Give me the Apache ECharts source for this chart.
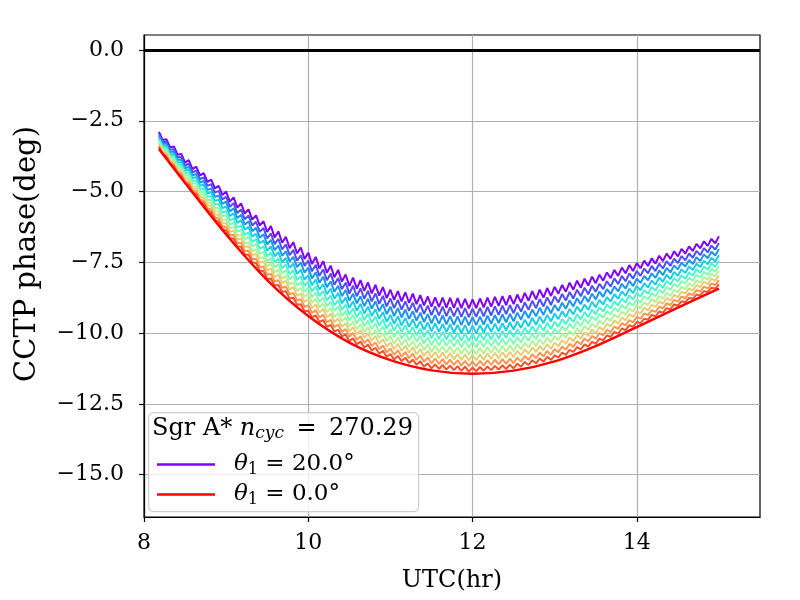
<!DOCTYPE html>
<html style="height: 100%">
<head>
    <meta charset="utf-8">
</head>
<body style="height: 100%; margin: 0">
<div id="container" style="width: 800px; height: 600px"></div>
<script src="https://cdn.jsdelivr.net/npm/echarts@6/dist/echarts.min.js"></script>
<script type="text/javascript">
    // sample times (hr) of the wiggling curves, read along the x axis
    var utc = [
        8.182, 8.227, 8.273, 8.318, 8.364, 8.409, 8.455,
        8.5, 8.545, 8.591, 8.636, 8.682, 8.727, 8.773, 8.818, 8.864, 8.909, 8.955,
        9.0, 9.045, 9.091, 9.136, 9.182, 9.227, 9.273, 9.318, 9.364, 9.409, 9.455,
        9.5, 9.545, 9.591, 9.636, 9.682, 9.727, 9.773, 9.818, 9.864, 9.909, 9.955,
        10.0, 10.045, 10.091, 10.136, 10.182, 10.227, 10.273, 10.318, 10.364, 10.409, 10.455,
        10.5, 10.545, 10.591, 10.636, 10.682, 10.727, 10.773, 10.818, 10.864, 10.909, 10.955,
        11.0, 11.045, 11.091, 11.136, 11.182, 11.227, 11.273, 11.318, 11.364, 11.409, 11.455,
        11.5, 11.545, 11.591, 11.636, 11.682, 11.727, 11.773, 11.818, 11.864, 11.909, 11.955,
        12.0, 12.045, 12.091, 12.136, 12.182, 12.227, 12.273, 12.318, 12.364, 12.409, 12.455,
        12.5, 12.545, 12.591, 12.636, 12.682, 12.727, 12.773, 12.818, 12.864, 12.909, 12.955,
        13.0, 13.045, 13.091, 13.136, 13.182, 13.227, 13.273, 13.318, 13.364, 13.409, 13.455,
        13.5, 13.545, 13.591, 13.636, 13.682, 13.727, 13.773, 13.818, 13.864, 13.909, 13.955,
        14.0, 14.045, 14.091, 14.136, 14.182, 14.227, 14.273, 14.318, 14.364, 14.409, 14.455,
        14.5, 14.545, 14.591, 14.636, 14.682, 14.727, 14.773, 14.818, 14.864, 14.909, 14.955,
        15.0
    ];

    // CCTP phase (deg), one array per theta_1, peaks and troughs of each wiggle
    var theta20 = [
        -2.89, -3.18, -3.15, -3.44, -3.41, -3.70, -3.67,
        -3.98, -3.89, -4.21, -4.12, -4.43, -4.35, -4.66, -4.58, -4.89, -4.80, -5.12,
        -5.00, -5.36, -5.21, -5.57, -5.42, -5.78, -5.63, -5.99, -5.84, -6.20, -6.05,
        -6.43, -6.22, -6.62, -6.41, -6.81, -6.60, -7.00, -6.79, -7.19, -6.98, -7.38,
        -7.16, -7.56, -7.31, -7.72, -7.46, -7.87, -7.62, -8.03, -7.77, -8.18, -7.93,
        -8.34, -8.04, -8.43, -8.13, -8.51, -8.21, -8.60, -8.30, -8.68, -8.38, -8.77,
        -8.47, -8.83, -8.52, -8.88, -8.56, -8.93, -8.61, -8.98, -8.66, -9.02, -8.71,
        -9.07, -8.74, -9.08, -8.75, -9.10, -8.76, -9.11, -8.77, -9.12, -8.79, -9.13,
        -8.81, -9.12, -8.78, -9.09, -8.75, -9.07, -8.72, -9.04, -8.70, -9.01, -8.67,
        -8.98, -8.64, -8.92, -8.58, -8.86, -8.52, -8.81, -8.47, -8.75, -8.41, -8.69,
        -8.37, -8.61, -8.30, -8.54, -8.22, -8.47, -8.15, -8.40, -8.08, -8.32, -8.01,
        -8.24, -7.94, -8.15, -7.86, -8.06, -7.77, -7.98, -7.69, -7.89, -7.60, -7.81,
        -7.53, -7.71, -7.44, -7.63, -7.36, -7.55, -7.27, -7.46, -7.19, -7.38, -7.11,
        -7.29, -7.03, -7.19, -6.94, -7.10, -6.85, -7.01, -6.76, -6.92, -6.67, -6.83,
        -6.58
    ];
    var theta18 = [
        -2.97, -3.25, -3.24, -3.52, -3.51, -3.79, -3.78,
        -4.08, -4.02, -4.32, -4.26, -4.56, -4.50, -4.80, -4.74, -5.04, -4.98, -5.28,
        -5.19, -5.54, -5.41, -5.76, -5.63, -5.98, -5.85, -6.20, -6.07, -6.42, -6.29,
        -6.66, -6.48, -6.86, -6.67, -7.05, -6.87, -7.25, -7.06, -7.44, -7.25, -7.63,
        -7.44, -7.82, -7.59, -7.98, -7.75, -8.14, -7.90, -8.29, -8.06, -8.45, -8.22,
        -8.61, -8.33, -8.70, -8.42, -8.79, -8.51, -8.88, -8.60, -8.97, -8.69, -9.06,
        -8.78, -9.12, -8.83, -9.17, -8.88, -9.22, -8.93, -9.27, -8.98, -9.32, -9.03,
        -9.37, -9.06, -9.38, -9.07, -9.40, -9.09, -9.41, -9.10, -9.43, -9.12, -9.44,
        -9.14, -9.43, -9.11, -9.41, -9.08, -9.38, -9.06, -9.36, -9.03, -9.33, -9.01,
        -9.30, -8.98, -9.24, -8.92, -9.18, -8.86, -9.12, -8.80, -9.06, -8.74, -9.01,
        -8.70, -8.92, -8.62, -8.85, -8.55, -8.78, -8.47, -8.70, -8.40, -8.63, -8.33,
        -8.54, -8.26, -8.45, -8.17, -8.36, -8.07, -8.27, -7.98, -8.17, -7.89, -8.08,
        -7.81, -7.98, -7.72, -7.89, -7.63, -7.81, -7.55, -7.72, -7.46, -7.63, -7.37,
        -7.53, -7.28, -7.43, -7.19, -7.34, -7.10, -7.25, -7.00, -7.15, -6.91, -7.05,
        -6.82
    ];
    var theta16 = [
        -3.03, -3.31, -3.31, -3.60, -3.59, -3.88, -3.88,
        -4.18, -4.13, -4.43, -4.38, -4.68, -4.63, -4.94, -4.89, -5.19, -5.14, -5.44,
        -5.36, -5.71, -5.59, -5.94, -5.82, -6.17, -6.05, -6.40, -6.28, -6.63, -6.51,
        -6.87, -6.71, -7.07, -6.91, -7.27, -7.11, -7.47, -7.31, -7.67, -7.51, -7.87,
        -7.69, -8.07, -7.85, -8.22, -8.01, -8.38, -8.17, -8.54, -8.33, -8.70, -8.48,
        -8.86, -8.61, -8.95, -8.70, -9.05, -8.79, -9.14, -8.88, -9.23, -8.98, -9.33,
        -9.07, -9.40, -9.12, -9.45, -9.17, -9.50, -9.23, -9.56, -9.28, -9.61, -9.33,
        -9.66, -9.37, -9.68, -9.38, -9.69, -9.40, -9.71, -9.41, -9.72, -9.42, -9.73,
        -9.44, -9.72, -9.42, -9.70, -9.39, -9.67, -9.37, -9.65, -9.34, -9.62, -9.32,
        -9.59, -9.28, -9.53, -9.22, -9.47, -9.17, -9.41, -9.11, -9.36, -9.05, -9.30,
        -9.01, -9.22, -8.93, -9.14, -8.85, -9.06, -8.77, -8.98, -8.69, -8.90, -8.61,
        -8.81, -8.54, -8.72, -8.45, -8.62, -8.35, -8.53, -8.26, -8.43, -8.16, -8.34,
        -8.08, -8.23, -7.98, -8.14, -7.89, -8.05, -7.79, -7.95, -7.70, -7.86, -7.61,
        -7.75, -7.52, -7.65, -7.42, -7.56, -7.32, -7.46, -7.22, -7.36, -7.13, -7.26,
        -7.03
    ];
    var theta14 = [
        -3.10, -3.38, -3.39, -3.67, -3.68, -3.96, -3.97,
        -4.26, -4.23, -4.53, -4.49, -4.79, -4.76, -5.06, -5.03, -5.33, -5.29, -5.59,
        -5.53, -5.87, -5.77, -6.11, -6.01, -6.35, -6.25, -6.59, -6.49, -6.83, -6.73,
        -7.09, -6.94, -7.29, -7.14, -7.50, -7.35, -7.70, -7.55, -7.91, -7.76, -8.11,
        -7.95, -8.31, -8.11, -8.47, -8.27, -8.63, -8.43, -8.79, -8.59, -8.95, -8.75,
        -9.11, -8.88, -9.21, -8.97, -9.31, -9.07, -9.40, -9.16, -9.50, -9.26, -9.60,
        -9.36, -9.67, -9.41, -9.73, -9.47, -9.78, -9.52, -9.83, -9.58, -9.89, -9.63,
        -9.94, -9.66, -9.96, -9.68, -9.97, -9.69, -9.99, -9.71, -10.00, -9.72, -10.02,
        -9.74, -10.01, -9.72, -9.98, -9.69, -9.96, -9.67, -9.94, -9.65, -9.91, -9.62,
        -9.88, -9.59, -9.82, -9.53, -9.76, -9.47, -9.71, -9.42, -9.65, -9.36, -9.59,
        -9.31, -9.51, -9.23, -9.43, -9.15, -9.34, -9.07, -9.26, -8.99, -9.18, -8.90,
        -9.09, -8.83, -8.99, -8.73, -8.89, -8.63, -8.79, -8.53, -8.69, -8.43, -8.59,
        -8.34, -8.49, -8.24, -8.39, -8.14, -8.29, -8.04, -8.19, -7.94, -8.09, -7.84,
        -7.98, -7.75, -7.88, -7.65, -7.77, -7.55, -7.67, -7.45, -7.57, -7.34, -7.47,
        -7.25
    ];
    var theta12 = [
        -3.16, -3.43, -3.46, -3.73, -3.76, -4.03, -4.06,
        -4.35, -4.33, -4.63, -4.61, -4.91, -4.89, -5.18, -5.17, -5.46, -5.44, -5.74,
        -5.70, -6.03, -5.95, -6.28, -6.20, -6.53, -6.44, -6.78, -6.69, -7.02, -6.94,
        -7.29, -7.16, -7.50, -7.36, -7.71, -7.57, -7.92, -7.78, -8.13, -7.99, -8.33,
        -8.19, -8.53, -8.35, -8.69, -8.51, -8.85, -8.68, -9.02, -8.84, -9.18, -9.00,
        -9.34, -9.13, -9.44, -9.22, -9.54, -9.32, -9.64, -9.42, -9.74, -9.52, -9.84,
        -9.62, -9.91, -9.67, -9.97, -9.73, -10.03, -9.79, -10.08, -9.84, -10.14, -9.90,
        -10.19, -9.94, -10.21, -9.95, -10.23, -9.97, -10.25, -9.99, -10.27, -10.01, -10.29,
        -10.03, -10.28, -10.00, -10.25, -9.98, -10.23, -9.95, -10.20, -9.93, -10.18, -9.90,
        -10.14, -9.87, -10.09, -9.81, -10.03, -9.76, -9.97, -9.70, -9.92, -9.64, -9.86,
        -9.60, -9.78, -9.51, -9.69, -9.43, -9.61, -9.34, -9.52, -9.26, -9.44, -9.17,
        -9.34, -9.09, -9.24, -8.99, -9.13, -8.88, -9.03, -8.78, -8.92, -8.67, -8.82,
        -8.58, -8.71, -8.48, -8.61, -8.37, -8.50, -8.27, -8.40, -8.16, -8.29, -8.06,
        -8.18, -7.96, -8.08, -7.86, -7.97, -7.75, -7.87, -7.65, -7.76, -7.54, -7.66,
        -7.44
    ];
    var theta10 = [
        -3.22, -3.49, -3.53, -3.80, -3.84, -4.11, -4.15,
        -4.43, -4.43, -4.72, -4.72, -5.01, -5.00, -5.30, -5.29, -5.58, -5.58, -5.87,
        -5.84, -6.16, -6.10, -6.42, -6.36, -6.68, -6.61, -6.93, -6.87, -7.19, -7.13,
        -7.46, -7.35, -7.68, -7.56, -7.89, -7.78, -8.10, -7.99, -8.32, -8.20, -8.53,
        -8.41, -8.73, -8.57, -8.90, -8.74, -9.06, -8.90, -9.22, -9.06, -9.39, -9.23,
        -9.56, -9.36, -9.66, -9.46, -9.76, -9.56, -9.86, -9.66, -9.96, -9.76, -10.07,
        -9.86, -10.14, -9.92, -10.20, -9.98, -10.26, -10.03, -10.31, -10.09, -10.37, -10.15,
        -10.43, -10.18, -10.44, -10.20, -10.46, -10.22, -10.48, -10.24, -10.50, -10.26, -10.52,
        -10.28, -10.51, -10.26, -10.49, -10.23, -10.47, -10.21, -10.45, -10.19, -10.42, -10.17,
        -10.40, -10.14, -10.34, -10.08, -10.28, -10.02, -10.22, -9.96, -10.16, -9.90, -10.10,
        -9.85, -10.01, -9.76, -9.92, -9.67, -9.84, -9.58, -9.75, -9.50, -9.66, -9.41,
        -9.56, -9.32, -9.46, -9.22, -9.35, -9.11, -9.25, -9.01, -9.14, -8.90, -9.04,
        -8.81, -8.92, -8.70, -8.81, -8.59, -8.70, -8.48, -8.59, -8.37, -8.48, -8.26,
        -8.37, -8.16, -8.26, -8.05, -8.15, -7.94, -8.05, -7.84, -7.94, -7.73, -7.83,
        -7.63
    ];
    var theta8 = [
        -3.28, -3.54, -3.59, -3.86, -3.91, -4.18, -4.23,
        -4.51, -4.52, -4.81, -4.82, -5.10, -5.12, -5.40, -5.42, -5.70, -5.71, -6.00,
        -5.99, -6.30, -6.26, -6.57, -6.52, -6.83, -6.79, -7.10, -7.05, -7.36, -7.32,
        -7.64, -7.55, -7.86, -7.76, -8.08, -7.98, -8.29, -8.20, -8.51, -8.41, -8.72,
        -8.62, -8.93, -8.79, -9.09, -8.95, -9.26, -9.12, -9.43, -9.29, -9.59, -9.45,
        -9.77, -9.59, -9.87, -9.69, -9.97, -9.79, -10.08, -9.90, -10.18, -10.00, -10.28,
        -10.10, -10.37, -10.16, -10.43, -10.22, -10.49, -10.28, -10.55, -10.34, -10.61, -10.40,
        -10.67, -10.44, -10.68, -10.46, -10.70, -10.48, -10.72, -10.50, -10.74, -10.52, -10.76,
        -10.54, -10.75, -10.52, -10.73, -10.49, -10.71, -10.47, -10.69, -10.45, -10.66, -10.43,
        -10.64, -10.40, -10.58, -10.34, -10.52, -10.28, -10.46, -10.22, -10.40, -10.16, -10.34,
        -10.11, -10.25, -10.02, -10.16, -9.93, -10.07, -9.84, -9.98, -9.75, -9.89, -9.66,
        -9.80, -9.57, -9.68, -9.46, -9.57, -9.35, -9.46, -9.24, -9.35, -9.13, -9.24,
        -9.02, -9.12, -8.91, -9.01, -8.80, -8.90, -8.69, -8.79, -8.58, -8.68, -8.47,
        -8.56, -8.36, -8.45, -8.25, -8.34, -8.14, -8.22, -8.02, -8.11, -7.91, -8.00,
        -7.80
    ];
    var theta6 = [
        -3.33, -3.59, -3.65, -3.91, -3.98, -4.24, -4.30,
        -4.57, -4.60, -4.88, -4.91, -5.19, -5.22, -5.49, -5.52, -5.80, -5.83, -6.11,
        -6.12, -6.42, -6.39, -6.69, -6.66, -6.96, -6.94, -7.24, -7.21, -7.51, -7.48,
        -7.79, -7.72, -8.02, -7.94, -8.24, -8.16, -8.46, -8.38, -8.68, -8.61, -8.90,
        -8.82, -9.11, -8.99, -9.27, -9.15, -9.44, -9.32, -9.61, -9.49, -9.78, -9.65,
        -9.95, -9.79, -10.05, -9.90, -10.16, -10.00, -10.27, -10.11, -10.37, -10.22, -10.48,
        -10.33, -10.57, -10.39, -10.63, -10.45, -10.69, -10.51, -10.75, -10.57, -10.81, -10.63,
        -10.87, -10.67, -10.89, -10.69, -10.91, -10.71, -10.93, -10.73, -10.95, -10.75, -10.97,
        -10.77, -10.96, -10.75, -10.94, -10.72, -10.92, -10.70, -10.90, -10.68, -10.87, -10.66,
        -10.85, -10.63, -10.79, -10.57, -10.73, -10.51, -10.67, -10.45, -10.61, -10.39, -10.56,
        -10.34, -10.47, -10.25, -10.38, -10.16, -10.29, -10.07, -10.19, -9.97, -10.10, -9.88,
        -10.00, -9.79, -9.89, -9.67, -9.77, -9.56, -9.66, -9.45, -9.55, -9.33, -9.43,
        -9.23, -9.31, -9.11, -9.20, -9.00, -9.08, -8.88, -8.96, -8.76, -8.85, -8.65,
        -8.73, -8.54, -8.61, -8.42, -8.50, -8.31, -8.38, -8.19, -8.27, -8.08, -8.15,
        -7.97
    ];
    var theta4 = [
        -3.39, -3.64, -3.72, -3.97, -4.05, -4.30, -4.38,
        -4.65, -4.69, -4.96, -5.01, -5.28, -5.33, -5.59, -5.64, -5.91, -5.96, -6.23,
        -6.26, -6.54, -6.54, -6.82, -6.82, -7.10, -7.10, -7.38, -7.38, -7.66, -7.66,
        -7.95, -7.90, -8.18, -8.13, -8.40, -8.35, -8.63, -8.58, -8.85, -8.80, -9.08,
        -9.02, -9.29, -9.19, -9.45, -9.36, -9.62, -9.53, -9.79, -9.70, -9.96, -9.86,
        -10.13, -10.00, -10.24, -10.11, -10.35, -10.22, -10.46, -10.33, -10.57, -10.44, -10.68,
        -10.55, -10.77, -10.61, -10.83, -10.67, -10.89, -10.73, -10.95, -10.79, -11.01, -10.86,
        -11.07, -10.90, -11.09, -10.92, -11.11, -10.94, -11.13, -10.96, -11.15, -10.98, -11.17,
        -11.00, -11.17, -10.98, -11.15, -10.96, -11.13, -10.94, -11.11, -10.92, -11.09, -10.90,
        -11.07, -10.87, -11.01, -10.81, -10.95, -10.75, -10.89, -10.69, -10.83, -10.63, -10.77,
        -10.57, -10.68, -10.48, -10.59, -10.38, -10.49, -10.29, -10.40, -10.19, -10.30, -10.10,
        -10.20, -10.00, -10.08, -9.89, -9.97, -9.77, -9.85, -9.65, -9.73, -9.54, -9.62,
        -9.43, -9.49, -9.31, -9.37, -9.19, -9.25, -9.07, -9.13, -8.95, -9.01, -8.83,
        -8.89, -8.71, -8.77, -8.60, -8.66, -8.48, -8.54, -8.36, -8.42, -8.25, -8.31,
        -8.13
    ];
    var theta2 = [
        -3.43, -3.67, -3.77, -4.01, -4.11, -4.35, -4.45,
        -4.70, -4.77, -5.02, -5.09, -5.35, -5.42, -5.67, -5.74, -6.00, -6.07, -6.32,
        -6.38, -6.64, -6.67, -6.93, -6.96, -7.22, -7.24, -7.50, -7.53, -7.79, -7.82,
        -8.09, -8.07, -8.32, -8.30, -8.55, -8.52, -8.78, -8.75, -9.00, -8.98, -9.23,
        -9.21, -9.44, -9.38, -9.61, -9.54, -9.78, -9.71, -9.95, -9.88, -10.12, -10.05,
        -10.29, -10.19, -10.40, -10.30, -10.51, -10.41, -10.62, -10.52, -10.73, -10.63, -10.84,
        -10.74, -10.93, -10.81, -10.99, -10.87, -11.06, -10.94, -11.12, -11.00, -11.19, -11.07,
        -11.25, -11.11, -11.27, -11.13, -11.29, -11.15, -11.31, -11.17, -11.34, -11.19, -11.36,
        -11.22, -11.35, -11.20, -11.33, -11.18, -11.31, -11.16, -11.29, -11.14, -11.27, -11.12,
        -11.25, -11.08, -11.19, -11.02, -11.13, -10.96, -11.07, -10.90, -11.01, -10.84, -10.95,
        -10.79, -10.86, -10.69, -10.77, -10.59, -10.67, -10.50, -10.58, -10.40, -10.48, -10.31,
        -10.38, -10.20, -10.26, -10.08, -10.14, -9.96, -10.02, -9.84, -9.90, -9.72, -9.78,
        -9.61, -9.65, -9.49, -9.53, -9.36, -9.41, -9.24, -9.28, -9.12, -9.16, -8.99,
        -9.03, -8.88, -8.91, -8.76, -8.79, -8.64, -8.67, -8.52, -8.55, -8.40, -8.43,
        -8.28
    ];

    // theta_1 = 0: smooth curve, no wiggle
    var redUtc = [8.182, 8.5, 9.0, 9.5, 10.0, 10.5, 11.0, 11.5, 12.0, 12.5, 13.0, 13.5, 14.0, 14.5, 15.0];
    var theta0 = [-3.50, -4.70, -6.52, -8.13, -9.40, -10.34, -10.96, -11.32, -11.44, -11.33, -11.00, -10.46, -9.79, -9.10, -8.43];

    var xTicks = [8, 10, 12, 14];
    var yTicks = [-15, -12.5, -10, -7.5, -5, -2.5, 0];

    var curves = [theta20, theta18, theta16, theta14, theta12, theta10, theta8, theta6, theta4, theta2];
    var names = ['t20', 't18', 't16', 't14', 't12', 't10', 't8', 't6', 't4', 't2'];
    // matplotlib "rainbow" colormap, theta 20 -> 0
    var colors = ['#8000ff', '#4d4ffc', '#1a96f2', '#1acee3', '#4df3ce', '#80ffb4',
                  '#b3f396', '#e6ce74', '#ff964f', '#ff4f28', '#ff0000'];

    var serif = 'DejaVu Serif';
    var rich = {
        r: {fontFamily: serif, fontSize: 23, lineHeight: 27, color: '#000'},
        i: {fontFamily: serif, fontSize: 23, lineHeight: 27, fontStyle: 'italic', color: '#000'},
        s: {fontFamily: serif, fontSize: 16, lineHeight: 16, verticalAlign: 'bottom', color: '#000'},
        t: {fontFamily: serif, fontSize: 24, lineHeight: 27, color: '#000'},
        ti: {fontFamily: serif, fontSize: 24, lineHeight: 27, fontStyle: 'italic', color: '#000'},
        si: {fontFamily: serif, fontSize: 17, lineHeight: 16, verticalAlign: 'bottom', fontStyle: 'italic', color: '#000'}
    };

    var dom = document.getElementById("container");
    var myChart = echarts.init(dom);

    var series = curves.map(function (vals, k) {
        return {
            name: names[k],
            type: 'line',
            symbol: 'none',
            silent: true,
            data: utc.map(function (t, i) { return [t, vals[i]]; }),
            lineStyle: {color: colors[k], width: 2},
            itemStyle: {color: colors[k]}
        };
    });
    series.push({
        name: 't0',
        type: 'line',
        symbol: 'none',
        silent: true,
        smooth: 0.35,
        data: redUtc.map(function (t, i) { return [t, theta0[i]]; }),
        lineStyle: {color: colors[10], width: 2.4},
        itemStyle: {color: colors[10]}
    });
    // black line at phase 0
    series[0].markLine = {
        silent: true,
        symbol: 'none',
        label: {show: false},
        lineStyle: {color: '#000', width: 3, type: 'solid'},
        data: [{yAxis: 0}]
    };

    var option = {
        animation: false,
        backgroundColor: '#fff',
        grid: {left: 144, right: 40, top: 35, bottom: 83, show: true, borderColor: '#000', borderWidth: 1.2},
        xAxis: {
            type: 'value', min: 8, max: 15.5, interval: 2,
            name: 'UTC(hr)', nameLocation: 'middle', nameGap: 52,
            nameTextStyle: {fontFamily: serif, fontSize: 24, color: '#000'},
            axisLine: {show: true, onZero: false, lineStyle: {color: '#000', width: 1.2}},
            axisTick: {show: true, length: 5, customValues: xTicks, lineStyle: {color: '#000', width: 1.2}},
            axisLabel: {customValues: xTicks, margin: 15, fontFamily: serif, fontSize: 22, color: '#000'},
            splitLine: {show: true, lineStyle: {color: '#b0b0b0', width: 1.2}}
        },
        yAxis: {
            type: 'value', min: -16.5, max: 0.53,
            name: 'CCTP phase(deg)', nameLocation: 'middle', nameGap: 102,
            nameTextStyle: {fontFamily: serif, fontSize: 29, color: '#000', padding: [0, 0, 0, 44]},
            axisLine: {show: true, onZero: false, lineStyle: {color: '#000', width: 1.2}},
            axisTick: {show: true, length: 5, customValues: yTicks, lineStyle: {color: '#000', width: 1.2}},
            axisLabel: {
                customValues: yTicks, margin: 20, fontFamily: serif, fontSize: 22, color: '#000',
                formatter: function (v) { return (v < 0 ? '\u2212' : '') + Math.abs(v).toFixed(1); }
            },
            splitLine: {show: true, lineStyle: {color: '#b0b0b0', width: 1.2}}
        },
        legend: {
            data: ['t20', 't0'],
            orient: 'vertical',
            left: 152, top: 448,
            z: 110,
            selectedMode: false,
            icon: 'rect',
            itemWidth: 58, itemHeight: 2.5,
            itemGap: 5,
            formatter: function (name) {
                return name === 't20' ? '{i|θ}{s|1}{r| = 20.0°}' : '{i|θ}{s|1}{r| = 0.0°}';
            },
            textStyle: {padding: [0, 0, 0, 14], rich: rich}
        },
        graphic: [
            {
                type: 'rect', left: 148, top: 412, z: 100,
                shape: {width: 270, height: 99, r: 5},
                style: {fill: 'rgba(255,255,255,0.8)', stroke: '#cccccc', lineWidth: 1.2}
            },
            {
                type: 'text', left: 152, top: 417, z: 101,
                style: {text: '{t|Sgr A* }{ti|n}{si|cyc}{t| \u2009=\u2009 270.29}', rich: rich}
            }
        ],
        series: series
    };
    myChart.setOption(option, true);
</script>
</body>
</html>
